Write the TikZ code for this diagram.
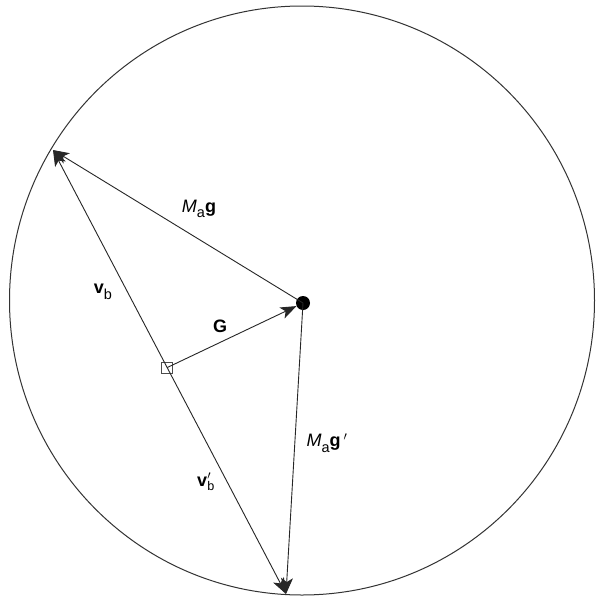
\documentclass[tikz,border=0pt]{standalone}
\usepackage{fontspec}
\setmainfont{Liberation Sans}
\usetikzlibrary{arrows.meta,calc,shapes.geometric}
\tikzset{
  vec/.style={line width=0.9pt, draw=black!85, -{Stealth[length=16pt,width=12pt,inset=4pt]}},
  lbl/.style={font=\fontsize{18}{21}\selectfont, inner sep=0pt},
}
\newcommand{\Ma}{\textit{M}\raisebox{-0.3em}{\fontsize{14.5}{16}\selectfont a}}
\begin{document}
\begin{tikzpicture}[x=1pt,y=-1pt]
\useasboundingbox (0,0) rectangle (595,600);
\fill[white] (0,0) rectangle (595,600);
\node[draw=black!80, line width=1pt, ellipse, minimum width=585pt, minimum height=589pt, inner sep=0pt] (C) at (302,300.5) {};
\coordinate (A) at (53,150);
\coordinate (B) at (286,594);
\node[circle, fill=black, minimum size=14pt, inner sep=0pt] (O) at (303,303) {};
\coordinate (S) at ($(A)!0.49!(B)$);
\node[draw=black!70, line width=0.7pt, minimum size=11pt, inner sep=0pt] (Sq) at (S) {};
\draw[vec] (O.center) -- (A);
\draw[vec] (O.center) -- (B);
\draw[vec] (S) -- (A);
\draw[vec] (S) -- (B);
\draw[vec] (S) -- (O);
\node[lbl] (lMag) at (199,209) {\Ma\textbf{g}};
\node[lbl] (lMagp) at (327,443) {\Ma\textbf{g}\,$'$};
\node[lbl] (lvb) at (103,292) {\textbf{v}\raisebox{-0.3em}{\fontsize{14.5}{16}\selectfont b}};
\node[lbl] (lvbp) at (206,482) {$\mathbf{v}'_{\mathrm{b}}$};
\node[lbl] (lG) at (220,326) {\textbf{G}};
\end{tikzpicture}
\end{document}
